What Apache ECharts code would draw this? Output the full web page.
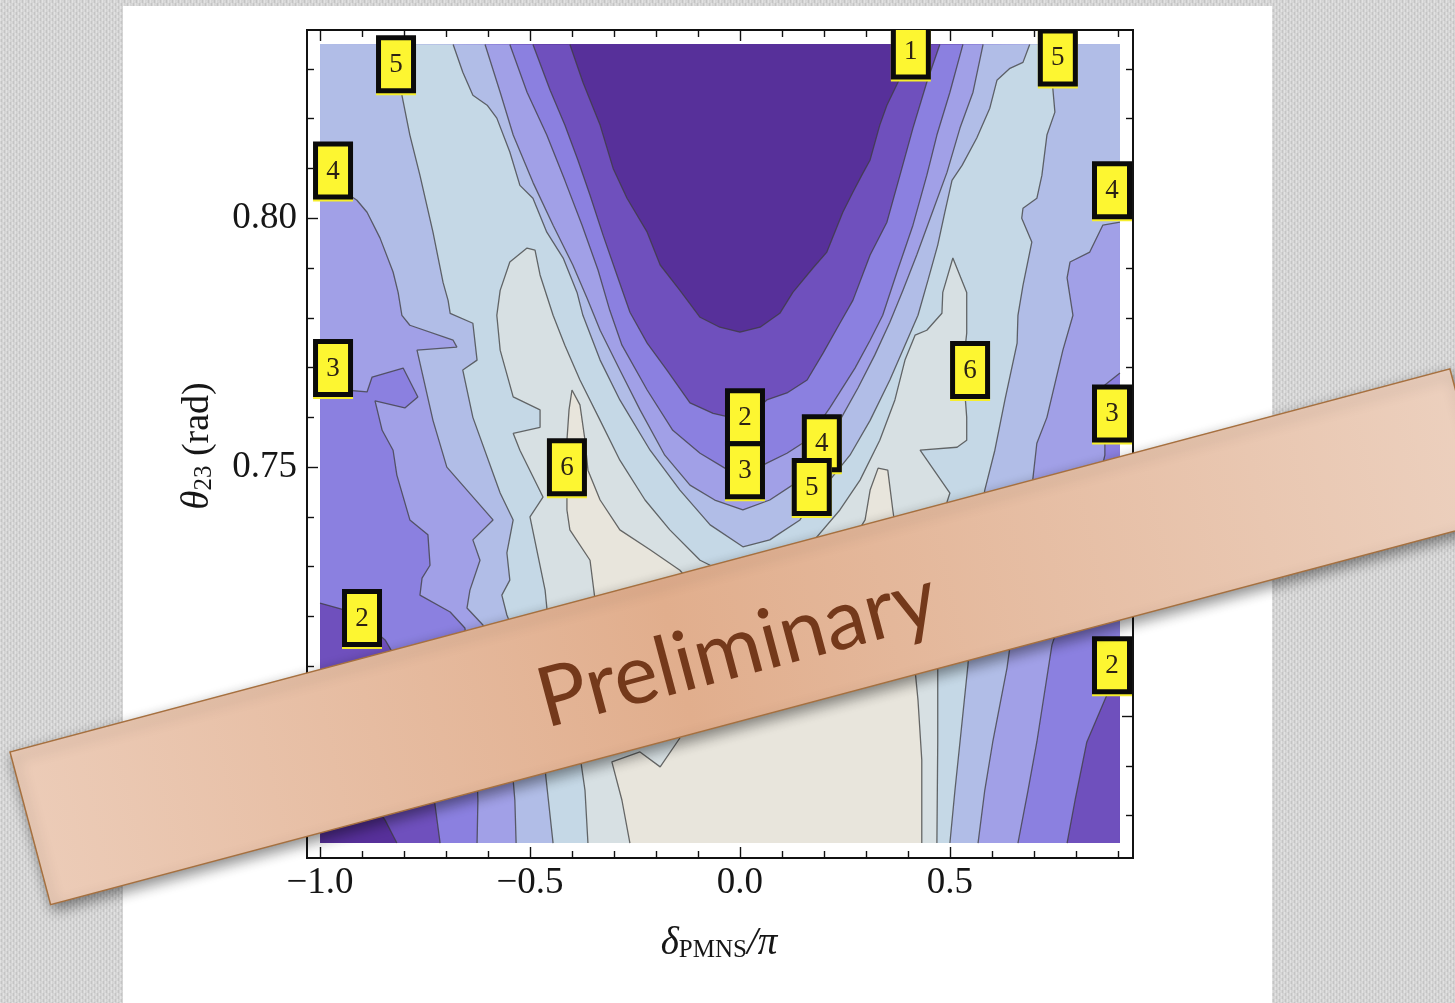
<!DOCTYPE html>
<html>
<head>
<meta charset="utf-8">
<title>θ23 versus δPMNS contour scan</title>
<script src="https://cdn.jsdelivr.net/npm/echarts@6/dist/echarts.min.js"></script>
<style>
  html, body { margin: 0; padding: 0; background: #d3d3d3; }
  #chart { width: 1455px; height: 1003px; }
</style>
</head>
<body>
<div id="chart"></div>
<script>
// ---- scan extents (δ/π, θ23 in rad) ----
const DELTA_RANGE = [-1.0, 0.905];
const THETA_RANGE = [0.6745, 0.835];
const FRAME_DELTA = [-1.031, 0.936];
const FRAME_THETA = [0.6715, 0.8378];

// ---- tick positions ----
const xMajorTicks = [-1.0, -0.5, 0.0, 0.5];
const xMinorTicks = [-0.9, -0.8, -0.7, -0.6, -0.4, -0.3, -0.2, -0.1, 0.1, 0.2, 0.3, 0.4, 0.6, 0.7, 0.8, 0.9];
const yMajorTicks = [0.70, 0.75, 0.80];
const yMinorTicks = [0.68, 0.69, 0.71, 0.72, 0.73, 0.74, 0.76, 0.77, 0.78, 0.79, 0.81, 0.82, 0.83];

// ---- shading between successive contour levels (lowest first) ----
const levelColors = ['#57309a', '#6f50bd', '#8b80e0', '#a1a0e7', '#b1bde7', '#c5d8e6', '#d7e0e3', '#e8e5dc'];

// ---- contour lines, [δ/π, θ23] ----
const lvl1Top = [[-0.405,0.8349],[-0.374,0.8273],[-0.352,0.8227],[-0.333,0.8187],[-0.302,0.8100],[-0.269,0.8040],[-0.221,0.7972],[-0.190,0.7906],[-0.143,0.7855],[-0.095,0.7801],[-0.048,0.7781],[0,0.7771],[0.048,0.7781],[0.095,0.7809],[0.126,0.7851],[0.174,0.7900],[0.207,0.7932],[0.245,0.8012],[0.269,0.8052],[0.290,0.8086],[0.310,0.8117],[0.333,0.8187],[0.350,0.8227],[0.381,0.8281],[0.410,0.8349]];
const lvl1Corner = [[-1,0.6936],[-0.952,0.6912],[-0.893,0.6851],[-0.845,0.6791],[-0.817,0.6745]];

const lvl2Inner = [[-0.493,0.8349],[-0.452,0.8257],[-0.417,0.8187],[-0.386,0.8117],[-0.357,0.8046],[-0.326,0.7966],[-0.293,0.7886],[-0.262,0.7811],[-0.221,0.7749],[-0.174,0.7695],[-0.119,0.7629],[-0.064,0.7608],[-0.012,0.7598],[0.012,0.7594],[0.064,0.7635],[0.112,0.7649],[0.160,0.7675],[0.198,0.7729],[0.238,0.7789],[0.269,0.7835],[0.310,0.7926],[0.350,0.7992],[0.381,0.8086],[0.412,0.8181],[0.445,0.8273],[0.476,0.8349]];
const lvl2Left = [[-1,0.7227],[-0.940,0.7213],[-0.900,0.7193],[-0.845,0.7153],[-0.810,0.7103],[-0.781,0.7012],[-0.750,0.6912],[-0.726,0.6821],[-0.714,0.6745]];
const lvl2Right = [[0.905,0.7113],[0.874,0.7043],[0.826,0.6948],[0.798,0.6831],[0.779,0.6745]];

const lvl3Inner = [[-0.548,0.8349],[-0.507,0.8253],[-0.460,0.8167],[-0.417,0.8076],[-0.376,0.7986],[-0.338,0.7896],[-0.310,0.7815],[-0.281,0.7745],[-0.221,0.7655],[-0.160,0.7574],[-0.095,0.7528],[-0.036,0.7498],[0.012,0.7484],[0.064,0.7508],[0.112,0.7528],[0.160,0.7554],[0.214,0.7619],[0.274,0.7699],[0.310,0.7755],[0.340,0.7805],[0.374,0.7892],[0.412,0.7986],[0.445,0.8086],[0.469,0.8167],[0.500,0.8253],[0.531,0.8349]];
const lvl3Left = [[-1,0.7665],[-0.940,0.7655],[-0.888,0.7651],[-0.876,0.7681],[-0.802,0.7699],[-0.767,0.7641],[-0.798,0.7619],[-0.869,0.7633],[-0.852,0.7574],[-0.826,0.7534],[-0.817,0.7484],[-0.786,0.7394],[-0.743,0.7364],[-0.738,0.7303],[-0.757,0.7277],[-0.762,0.7243],[-0.690,0.7209],[-0.655,0.7177],[-0.638,0.7073],[-0.629,0.6952],[-0.624,0.6831],[-0.626,0.6745]];
const lvl3Right = [[0.905,0.7689],[0.869,0.7665],[0.869,0.7524],[0.833,0.7394],[0.786,0.7253],[0.743,0.7143],[0.707,0.6948],[0.686,0.6851],[0.662,0.6745]];

const lvl4Inner = [[-0.607,0.8349],[-0.571,0.8253],[-0.540,0.8167],[-0.493,0.8072],[-0.445,0.7986],[-0.398,0.7906],[-0.364,0.7839],[-0.333,0.7775],[-0.286,0.7695],[-0.238,0.7615],[-0.179,0.7524],[-0.119,0.7464],[-0.060,0.7434],[0.007,0.7414],[0.071,0.7434],[0.143,0.7474],[0.195,0.7534],[0.238,0.7594],[0.281,0.7659],[0.321,0.7725],[0.357,0.7791],[0.388,0.7855],[0.421,0.7926],[0.460,0.8016],[0.493,0.8092],[0.524,0.8181],[0.555,0.8253],[0.579,0.8349]];
const lvl4Left = [[-1,0.8080],[-0.940,0.8052],[-0.912,0.8036],[-0.888,0.8012],[-0.857,0.7960],[-0.826,0.7892],[-0.814,0.7851],[-0.805,0.7805],[-0.786,0.7785],[-0.683,0.7755],[-0.674,0.7741],[-0.769,0.7735],[-0.731,0.7594],[-0.698,0.7500],[-0.588,0.7394],[-0.636,0.7354],[-0.619,0.7313],[-0.643,0.7253],[-0.650,0.7217],[-0.612,0.7183],[-0.571,0.7073],[-0.548,0.6952],[-0.536,0.6831],[-0.533,0.6745]];
const lvl4Right = [[0.905,0.7992],[0.864,0.7986],[0.833,0.7932],[0.786,0.7912],[0.779,0.7880],[0.793,0.7805],[0.769,0.7735],[0.731,0.7600],[0.707,0.7548],[0.698,0.7480],[0.679,0.7354],[0.655,0.7213],[0.636,0.7097],[0.602,0.6948],[0.583,0.6851],[0.567,0.6745]];

const lvl5Inner = [[-0.683,0.8349],[-0.660,0.8293],[-0.636,0.8247],[-0.602,0.8227],[-0.579,0.8201],[-0.548,0.8133],[-0.524,0.8066],[-0.493,0.8040],[-0.460,0.7972],[-0.421,0.7920],[-0.388,0.7851],[-0.374,0.7805],[-0.333,0.7715],[-0.286,0.7635],[-0.214,0.7534],[-0.143,0.7454],[-0.071,0.7384],[0.007,0.7340],[0.071,0.7354],[0.143,0.7394],[0.171,0.7434],[0.214,0.7474],[0.262,0.7524],[0.310,0.7594],[0.357,0.7675],[0.393,0.7745],[0.424,0.7805],[0.448,0.7876],[0.471,0.7946],[0.488,0.8012],[0.505,0.8076],[0.529,0.8106],[0.564,0.8161],[0.595,0.8221],[0.612,0.8277],[0.643,0.8301],[0.674,0.8313],[0.690,0.8349]];
const lvl5Left = [[-0.821,0.8349],[-0.805,0.8247],[-0.786,0.8167],[-0.762,0.8086],[-0.731,0.7972],[-0.707,0.7871],[-0.695,0.7835],[-0.690,0.7809],[-0.636,0.7789],[-0.626,0.7715],[-0.660,0.7695],[-0.636,0.7600],[-0.571,0.7448],[-0.540,0.7394],[-0.555,0.7328],[-0.548,0.7273],[-0.567,0.7243],[-0.555,0.7203],[-0.536,0.7163],[-0.500,0.7032],[-0.464,0.6892],[-0.445,0.6745]];
const lvl5Right = [[0.755,0.8349],[0.745,0.8261],[0.750,0.8213],[0.731,0.8167],[0.719,0.8086],[0.707,0.8040],[0.674,0.8020],[0.671,0.8000],[0.695,0.7952],[0.674,0.7865],[0.662,0.7805],[0.660,0.7749],[0.631,0.7635],[0.607,0.7534],[0.583,0.7454],[0.560,0.7313],[0.543,0.7103],[0.524,0.6948],[0.512,0.6851],[0.500,0.6745]];

const lvl6 = [[-0.362,0.6745],[-0.369,0.6851],[-0.393,0.6992],[-0.429,0.7113],[-0.457,0.7193],[-0.464,0.7253],[-0.500,0.7400],[-0.469,0.7440],[-0.524,0.7534],[-0.540,0.7568],[-0.476,0.7580],[-0.476,0.7615],[-0.540,0.7641],[-0.571,0.7735],[-0.579,0.7805],[-0.571,0.7855],[-0.548,0.7912],[-0.507,0.7940],[-0.488,0.7936],[-0.476,0.7886],[-0.445,0.7805],[-0.417,0.7745],[-0.381,0.7675],[-0.333,0.7594],[-0.286,0.7514],[-0.226,0.7434],[-0.167,0.7374],[-0.095,0.7313],[0,0.7273],[0.083,0.7293],[0.167,0.7344],[0.238,0.7414],[0.286,0.7474],[0.333,0.7554],[0.369,0.7635],[0.393,0.7715],[0.417,0.7765],[0.445,0.7775],[0.481,0.7809],[0.483,0.7851],[0.507,0.7920],[0.540,0.7851],[0.540,0.7769],[0.531,0.7701],[0.540,0.7600],[0.540,0.7554],[0.517,0.7540],[0.429,0.7534],[0.500,0.7448],[0.464,0.7354],[0.471,0.7233],[0.471,0.7073],[0.471,0.6948],[0.469,0.6745]];

const lvl7 = [[-0.262,0.6745],[-0.281,0.6831],[-0.305,0.6908],[-0.238,0.6928],[-0.190,0.6898],[-0.143,0.6956],[-0.238,0.7032],[-0.310,0.7133],[-0.345,0.7233],[-0.357,0.7313],[-0.405,0.7374],[-0.412,0.7414],[-0.412,0.7494],[-0.412,0.7554],[-0.407,0.7615],[-0.400,0.7655],[-0.381,0.7625],[-0.369,0.7554],[-0.362,0.7494],[-0.333,0.7434],[-0.286,0.7374],[-0.214,0.7334],[-0.143,0.7293],[-0.083,0.7233],[0.002,0.7153],[0.095,0.7213],[0.190,0.7283],[0.262,0.7344],[0.298,0.7394],[0.310,0.7454],[0.329,0.7498],[0.352,0.7494],[0.364,0.7414],[0.381,0.7313],[0.410,0.7153],[0.424,0.7032],[0.433,0.6912],[0.433,0.6745]];

// ---- contour value tags: [δ/π, θ23, level] ----
const contourLabels = [
  [-0.819, 0.8309, '5'], [-0.969, 0.8096, '4'], [-0.969, 0.7699, '3'], [-0.900, 0.7197, '2'],
  [0.407, 0.8337, '1'], [0.757, 0.8323, '5'], [0.886, 0.8056, '4'], [0.886, 0.7608, '3'], [0.886, 0.7102, '2'],
  [0.012, 0.7600, '2'], [0.012, 0.7494, '3'], [0.195, 0.7548, '4'], [0.171, 0.7460, '5'],
  [-0.412, 0.7500, '6'], [0.548, 0.7695, '6']
];

// ---- filled regions: each lists its boundary pieces in order ----
const CORNERS = {
  TL: [DELTA_RANGE[0], THETA_RANGE[1]], TR: [DELTA_RANGE[1], THETA_RANGE[1]],
  BR: [DELTA_RANGE[1], THETA_RANGE[0]], BL: [DELTA_RANGE[0], THETA_RANGE[0]]
};
const rev = (line) => ({ line, reversed: true });
const fillLayers = [
  ['BL', 'BR', 'TR', 'TL'],
  ['TL', lvl1Top, 'TR', 'BR', rev(lvl1Corner)],
  ['TL', lvl2Inner, 'TR', lvl2Right, rev(lvl2Left)],
  ['TL', lvl3Inner, 'TR', lvl3Right, rev(lvl3Left)],
  ['TL', lvl4Inner, 'TR', lvl4Right, rev(lvl4Left)],
  [lvl5Left, rev(lvl5Right), rev(lvl5Inner)],
  [lvl6],
  [lvl7]
];
function boundary(pieces) {
  const pts = [];
  pieces.forEach(p => {
    if (typeof p === 'string') pts.push(CORNERS[p]);
    else if (p.reversed) pts.push(...p.line.slice().reverse());
    else pts.push(...p);
  });
  return pts;
}

const contourLines = [lvl1Top, lvl1Corner, lvl2Inner, lvl2Left, lvl2Right, lvl3Inner, lvl3Left, lvl3Right,
  lvl4Inner, lvl4Left, lvl4Right, lvl5Inner, lvl5Left, lvl5Right, lvl6, lvl7];

// ---- axes: frame with inward ticks on all four sides ----
const SERIF = '"Liberation Serif", "DejaVu Serif", serif';
const fmtDelta = v => (v < 0 ? '\u2212' : '') + Math.abs(v).toFixed(1);
const fmtTheta = v => v.toFixed(2);
function xAxis(position, ticks, len, labels) {
  return {
    type: 'value', position, min: FRAME_DELTA[0], max: FRAME_DELTA[1],
    axisLine: { show: true, onZero: false, lineStyle: { color: '#111', width: 1.8 } },
    axisTick: { show: true, inside: true, length: len, customValues: ticks, lineStyle: { color: '#111', width: 1.4 } },
    axisLabel: labels ? { show: true, customValues: ticks, formatter: fmtDelta, fontFamily: SERIF, fontSize: 37, color: '#161616', margin: 7 } : { show: false },
    splitLine: { show: false }
  };
}
function yAxis(position, ticks, len, labels) {
  return {
    type: 'value', position, min: FRAME_THETA[0], max: FRAME_THETA[1],
    axisLine: { show: true, onZero: false, lineStyle: { color: '#111', width: 1.8 } },
    axisTick: { show: true, inside: true, length: len, customValues: ticks, lineStyle: { color: '#111', width: 1.4 } },
    axisLabel: labels ? { show: true, customValues: ticks, formatter: fmtTheta, fontFamily: SERIF, fontSize: 37, color: '#161616', margin: 10 } : { show: false },
    splitLine: { show: false }
  };
}

// ---- slide backdrop: fine linen weave ----
function linen() {
  const c = document.createElement('canvas');
  c.width = 6; c.height = 6;
  const g = c.getContext('2d');
  g.fillStyle = '#d4d4d4'; g.fillRect(0, 0, 6, 6);
  g.fillStyle = '#e2e2e2'; g.fillRect(0, 0, 1, 3); g.fillRect(3, 3, 1, 3);
  g.fillStyle = '#c4c4c4'; g.fillRect(1, 3, 1, 3); g.fillRect(4, 0, 1, 3);
  g.fillStyle = '#dadada'; g.fillRect(2, 1, 1, 1); g.fillRect(5, 4, 1, 1);
  return c;
}

const chart = echarts.init(document.getElementById('chart'), null, { renderer: 'canvas', width: 1455, height: 1003 });

const BANNER_ANGLE = 0.2601;
chart.setOption({
  animation: false,
  backgroundColor: { image: linen(), repeat: 'repeat' },
  grid: { left: 307, top: 30, width: 826, height: 828, show: false },
  xAxis: [
    xAxis('bottom', xMajorTicks, 11, true),
    xAxis('bottom', xMinorTicks, 7, false),
    xAxis('top', xMajorTicks, 11, false),
    xAxis('top', xMinorTicks, 7, false)
  ],
  yAxis: [
    yAxis('left', yMajorTicks, 11, true),
    yAxis('left', yMinorTicks, 7, false),
    yAxis('right', yMajorTicks, 11, false),
    yAxis('right', yMinorTicks, 7, false)
  ],
  graphic: [
    { type: 'rect', z: -10, silent: true, shape: { x: 123, y: 6, width: 1149, height: 1000 }, style: { fill: '#ffffff' } },
    {
      type: 'text', z: 10, silent: true, x: 719, y: 941,
      style: {
        text: '{d|δ}{s|PMNS}{d|/π}', align: 'center', verticalAlign: 'middle',
        rich: {
          d: { fontFamily: SERIF, fontStyle: 'italic', fontSize: 39, fill: '#161616', lineHeight: 44, verticalAlign: 'bottom' },
          s: { fontFamily: SERIF, fontSize: 25, fill: '#161616', lineHeight: 33, verticalAlign: 'bottom' }
        }
      }
    },
    {
      type: 'text', z: 10, silent: true, x: 195, y: 446, rotation: Math.PI / 2,
      style: {
        text: '{t|θ}{s|23}{n| (rad)}', align: 'center', verticalAlign: 'middle',
        rich: {
          t: { fontFamily: SERIF, fontStyle: 'italic', fontSize: 39, fill: '#161616', lineHeight: 44, verticalAlign: 'bottom' },
          s: { fontFamily: SERIF, fontSize: 25, fill: '#161616', lineHeight: 33, verticalAlign: 'bottom' },
          n: { fontFamily: SERIF, fontSize: 38, fill: '#161616', lineHeight: 44, verticalAlign: 'bottom' }
        }
      }
    },
    {
      type: 'group', zlevel: 1, z: 100, x: 10, y: 752, rotation: BANNER_ANGLE, silent: true,
      children: [
        {
          type: 'rect', zlevel: 1, z: 100, shape: { x: 0, y: 0, width: 1490, height: 158 },
          style: {
            fill: { type: 'linear', x: 0, y: 0, x2: 1, y2: 0.3, colorStops: [
              { offset: 0, color: '#ecccb8' }, { offset: 0.45, color: '#e1ae8d' }, { offset: 1, color: '#ecd0be' }] },
            stroke: '#a6703f', lineWidth: 1.5,
            shadowBlur: 14, shadowColor: 'rgba(0,0,0,0.45)', shadowOffsetX: 3, shadowOffsetY: 5
          }
        },
        {
          type: 'text', zlevel: 1, z: 101, x: 729, y: 88,
          style: { text: 'Preliminary', align: 'center', verticalAlign: 'middle', fontFamily: 'Lato, "Open Sans", sans-serif', fontSize: 83, fill: '#74391b' }
        }
      ]
    }
  ],
  series: [
    {
      type: 'custom', coordinateSystem: 'cartesian2d', xAxisIndex: 0, yAxisIndex: 0,
      silent: true, z: 1, clip: true,
      data: fillLayers.map((_, i) => [DELTA_RANGE[0], THETA_RANGE[0], i]),
      renderItem: (params, api) => {
        const pts = boundary(fillLayers[params.dataIndex]).map(p => api.coord(p));
        return { type: 'polygon', shape: { points: pts }, style: { fill: levelColors[params.dataIndex] } };
      }
    },
    ...contourLines.map(line => ({
      type: 'line', xAxisIndex: 0, yAxisIndex: 0, data: line, symbol: 'none', showSymbol: false,
      silent: true, z: 3, clip: true,
      lineStyle: { color: 'rgba(60,60,60,0.75)', width: 1.3 }
    })),
    {
      type: 'custom', coordinateSystem: 'cartesian2d', xAxisIndex: 0, yAxisIndex: 0,
      silent: true, z: 5, clip: true,
      data: contourLabels.map(d => [d[0], d[1]]),
      renderItem: (params, api) => {
        const c = api.coord([api.value(0), api.value(1)]);
        const tag = contourLabels[params.dataIndex][2];
        return {
          type: 'group', x: c[0], y: c[1], children: [
            { type: 'rect', shape: { x: -20, y: -27, width: 40, height: 58 }, style: { fill: '#f6ee2c' } },
            { type: 'rect', shape: { x: -20, y: -29, width: 40, height: 58 }, style: { fill: '#0b0b0b' } },
            { type: 'rect', shape: { x: -15, y: -24, width: 30, height: 48 }, style: { fill: '#fdf631' } },
            { type: 'text', style: { text: tag, x: 0, y: 1, align: 'center', verticalAlign: 'middle', fontFamily: SERIF, fontSize: 27, fill: '#2c2214' } }
          ]
        };
      }
    }
  ]
});
</script>
</body>
</html>
